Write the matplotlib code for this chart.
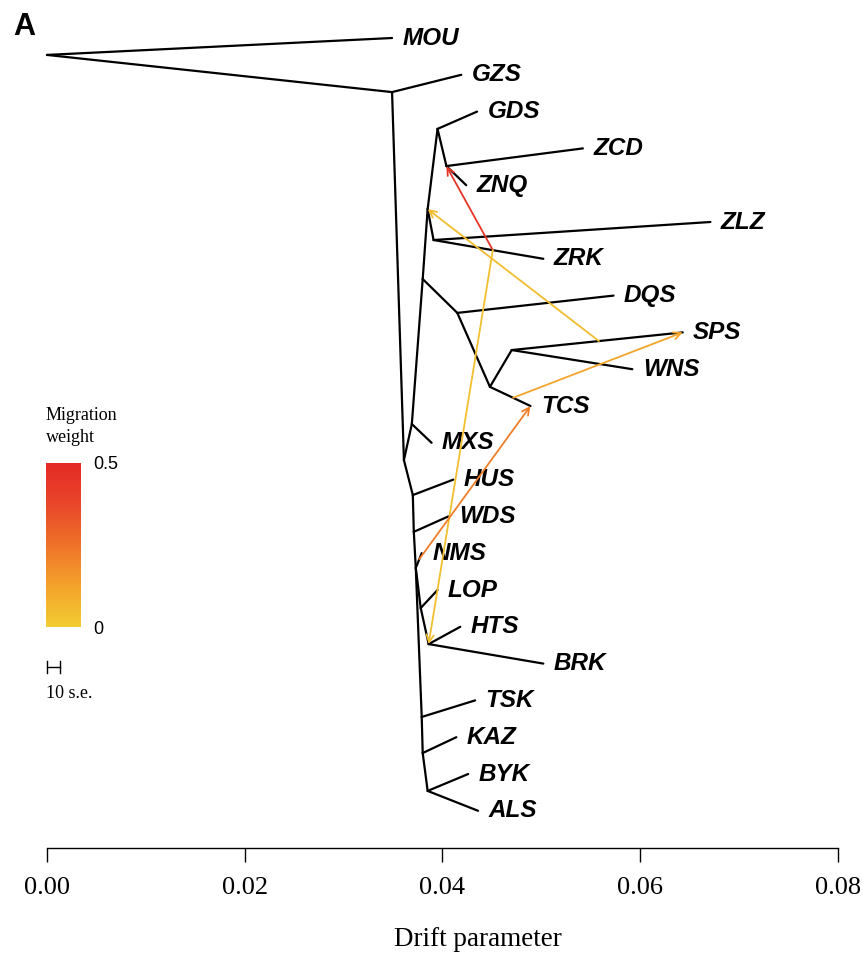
import numpy as np
import matplotlib.pyplot as plt
from matplotlib.colors import LinearSegmentedColormap, Normalize
from matplotlib.cm import ScalarMappable

# =========================
# Data
# =========================

# populations, top to bottom (tip y = row index)
pops = ["MOU", "GZS", "GDS", "ZCD", "ZNQ", "ZLZ", "ZRK", "DQS", "SPS", "WNS", "TCS",
        "MXS", "HUS", "WDS", "NMS", "LOP", "HTS", "BRK", "TSK", "KAZ", "BYK", "ALS"]
tip_drift = [0.0349, 0.0419, 0.0435, 0.0542, 0.0424, 0.0671, 0.0502, 0.0573, 0.0643, 0.0592, 0.0489,
             0.0389, 0.0411, 0.0406, 0.0379, 0.0395, 0.0418, 0.0502, 0.0433, 0.0414, 0.0426, 0.0436]

# internal nodes
node_names = ["R", "A", "B", "C", "D", "E", "F", "G", "H", "I", "J", "K",
              "L", "M", "N", "O", "P", "Q", "S", "T"]
node_drift = [0.0, 0.0349, 0.0361, 0.0369, 0.0380, 0.0415, 0.0448, 0.0470, 0.0385, 0.0395, 0.0404, 0.0391,
              0.0370, 0.0371, 0.0373, 0.0378, 0.0386, 0.0379, 0.0380, 0.0385]
node_y = [0.46, 1.47, 11.47, 10.49, 6.55, 7.47, 9.48, 8.48, 4.65, 2.47, 3.48, 5.49,
          12.42, 13.42, 14.40, 15.49, 16.47, 18.45, 19.43, 20.46]

# tree edges (parent, child)
edges = [("R", "MOU"), ("R", "A"), ("A", "GZS"), ("A", "B"),
         ("B", "C"), ("C", "MXS"), ("C", "D"),
         ("D", "E"), ("E", "DQS"), ("E", "F"), ("F", "G"), ("G", "SPS"), ("G", "WNS"), ("F", "TCS"),
         ("D", "H"), ("H", "I"), ("I", "GDS"), ("I", "J"), ("J", "ZCD"), ("J", "ZNQ"),
         ("H", "K"), ("K", "ZLZ"), ("K", "ZRK"),
         ("B", "L"), ("L", "HUS"), ("L", "M"), ("M", "WDS"), ("M", "N"), ("N", "NMS"),
         ("N", "O"), ("O", "LOP"), ("O", "P"), ("P", "HTS"), ("P", "BRK"),
         ("N", "Q"), ("Q", "TSK"), ("Q", "S"), ("S", "KAZ"), ("S", "T"), ("T", "BYK"), ("T", "ALS")]

# migration edges: source edge, fraction along it, target node, weight
mig_src_edge = [("K", "ZRK"), ("K", "ZRK"), ("G", "SPS"), ("N", "NMS"), ("F", "TCS")]
mig_src_frac = [0.54, 0.54, 0.51, 0.6, 0.57]
mig_target = ["J", "P", "H", "TCS", "SPS"]
mig_weight = [0.45, 0.04, 0.05, 0.22, 0.12]

xticks = [0.00, 0.02, 0.04, 0.06, 0.08]


# =========================
# Positions
# =========================

pos = {}
for i, p in enumerate(pops):
    pos[p] = (tip_drift[i], i)
for n, x, y in zip(node_names, node_drift, node_y):
    pos[n] = (x, y)

cmap = LinearSegmentedColormap.from_list(
    "mig", ["#F2CC31", "#F3A22B", "#EE7229", "#E9462A", "#E42A25"])
norm = Normalize(0, 0.5)

serif = "Liberation Serif"
sans = "Liberation Sans"

fig = plt.figure(figsize=(8.63, 9.6), dpi=100)
ax = fig.add_axes([0, 0, 1, 1])

px = 9887.0  # pixels per drift unit
ax.set_xlim(-47 / px, 816 / px)
ax.set_ylim((960 - 38) / 36.8, -38 / 36.8)

# tree
for a, b in edges:
    ax.plot([pos[a][0], pos[b][0]], [pos[a][1], pos[b][1]], color="black", lw=1.6,
            solid_capstyle="round", zorder=2)

# tip labels
for p in pops:
    ax.annotate(p, pos[p], xytext=(7.5, 0), textcoords="offset points", ha="left", va="center",
                fontsize=17.5, fontweight="bold", fontstyle="italic", family=sans)

# migration arrows
for (a, b), f, t, w in zip(mig_src_edge, mig_src_frac, mig_target, mig_weight):
    x0 = pos[a][0] + f * (pos[b][0] - pos[a][0])
    y0 = pos[a][1] + f * (pos[b][1] - pos[a][1])
    ax.annotate("", xy=pos[t], xytext=(x0, y0),
                arrowprops=dict(arrowstyle="->", color=cmap(norm(w)), lw=1.3,
                                mutation_scale=13, shrinkA=0, shrinkB=0), zorder=3)

# x axis
for s in ["top", "left", "right"]:
    ax.spines[s].set_visible(False)
ax.spines["bottom"].set_position(("data", (848 - 38) / 36.8))
ax.spines["bottom"].set_bounds(0, 0.08)
ax.spines["bottom"].set_linewidth(1.0)
ax.set_yticks([])
ax.set_xticks(xticks)
ax.set_xticklabels([f"{v:.2f}" for v in xticks], family=serif, fontsize=19)
ax.tick_params(axis="x", direction="out", length=10, width=1.0, pad=11)
ax.set_xlabel("Drift parameter", family=serif, fontsize=19.5)
ax.xaxis.set_label_coords(478 / 863, 1 - 927 / 960)
ax.patch.set_alpha(0)

# scale bar (10 s.e.)
se_len = 13 / px
se_y = (667 - 38) / 36.8
ax.plot([0, se_len], [se_y, se_y], color="black", lw=1.0)
ax.plot([0, 0], [se_y - 0.17, se_y + 0.17], color="black", lw=1.0)
ax.plot([se_len, se_len], [se_y - 0.17, se_y + 0.17], color="black", lw=1.0)
fig.text(46 / 863, 1 - 693 / 960, "10 s.e.", family=serif, fontsize=13, va="center")

# colour legend
fig.text(46 / 863, 1 - 415 / 960, "Migration", family=serif, fontsize=13, va="center")
fig.text(46 / 863, 1 - 438 / 960, "weight", family=serif, fontsize=13, va="center")
cax = fig.add_axes([46 / 863, 1 - 627 / 960, 35 / 863, 164 / 960])
cb = fig.colorbar(ScalarMappable(norm=norm, cmap=cmap), cax=cax, ticks=[0, 0.5])
cb.outline.set_visible(False)
cb.ax.set_yticklabels(["0", "0.5"], family=sans, fontsize=13)
cb.ax.tick_params(length=0, pad=9)

fig.text(24 / 863, 1 - 27 / 960, "A", family=sans, fontsize=22, fontweight="bold",
         ha="center", va="center")

fig.savefig("out.png", dpi=100)
